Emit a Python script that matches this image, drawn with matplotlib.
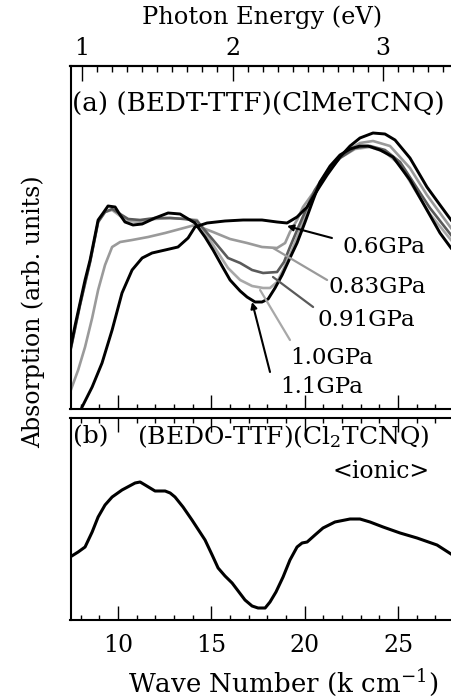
import matplotlib
matplotlib.use("Agg")
import matplotlib.pyplot as plt
from matplotlib.ticker import MultipleLocator, NullLocator, FixedLocator

plt.rcParams['font.family'] = ['DejaVu Serif']
plt.rcParams['mathtext.fontset'] = 'dejavuserif'

# ---------------- data (k cm^-1 , arb. units) ----------------
k_06 = [8.07, 8.61, 9.14, 9.68, 10.21, 10.75, 11.29, 11.82, 12.52, 13.21, 13.75, 14.12, 14.77,
        15.73, 16.70, 17.71, 18.52, 19.05, 19.59, 20.13, 20.45, 20.82, 21.20, 21.89, 22.43,
        22.96, 23.66, 24.30, 24.84, 25.64, 26.55, 27.25, 27.84]
a_06 = [2, 22, 46, 79, 116, 139, 151, 156, 159, 162, 171, 182, 186,
        188, 189, 189, 187, 186, 192, 202, 212, 223, 234, 252, 263,
        271, 276, 275, 269, 251, 222, 204, 189]

k_083 = [7.43, 7.86, 8.23, 8.61, 8.93, 9.30, 9.68, 10.11, 10.75, 11.61, 12.52, 13.32, 14.12,
         15.09, 16.00, 16.91, 17.71, 18.52, 18.95, 19.21, 19.59, 19.91, 20.45, 20.82, 21.36,
         22.16, 22.96, 23.66, 24.57, 25.64, 26.55, 27.25, 27.84]
a_083 = [17, 39, 62, 91, 119, 144, 162, 167, 169, 172, 176, 180, 184,
         177, 170, 166, 162, 161, 166, 177, 189, 202, 216, 227, 241,
         257, 266, 268, 263, 241, 214, 196, 181]

k_091 = [7.43, 7.96, 8.50, 8.93, 9.30, 9.68, 10.11, 10.54, 11.18, 11.98, 12.79, 13.59, 14.23,
         15.09, 15.89, 16.54, 17.18, 17.77, 18.52, 18.89, 19.21, 19.64, 20.13, 20.55, 21.09,
         21.89, 22.70, 23.50, 24.30, 25.11, 25.91, 26.71, 27.84]
a_091 = [57, 104, 147, 187, 197, 200, 195, 190, 189, 191, 191, 190, 188,
         169, 151, 146, 139, 136, 137, 147, 162, 181, 202, 219, 234,
         251, 261, 263, 259, 247, 224, 201, 174]

k_10 = [7.43, 7.96, 8.50, 8.93, 9.30, 9.68, 10.11, 10.54, 11.18, 11.98, 12.79, 13.59, 14.23,
        15.09, 15.89, 16.54, 17.18, 17.77, 18.14, 18.52, 18.84, 19.21, 19.75, 20.13, 20.55,
        21.09, 21.89, 22.70, 23.50, 24.30, 25.11, 25.91, 26.71, 27.84]
a_10 = [57, 104, 147, 187, 197, 199, 193, 188, 187, 190, 191, 190, 189,
        164, 141, 129, 123, 121, 121, 127, 139, 154, 179, 199, 217,
        233, 251, 260, 262, 257, 244, 219, 195, 169]

k_11 = [7.43, 7.70, 7.96, 8.23, 8.50, 8.77, 8.93, 9.20, 9.46, 9.84, 10.11, 10.37, 10.80,
        11.29, 11.98, 12.68, 13.32, 14.12, 14.66, 15.09, 15.57, 16.00, 16.54, 16.91, 17.34,
        17.71, 18.04, 18.41, 18.79, 19.21, 19.59, 20.02, 20.45, 20.82, 21.36, 21.89, 22.43,
        22.96, 23.39, 24.04, 24.73, 25.64, 26.55, 27.25, 27.84]
a_11 = [59, 84, 106, 129, 149, 174, 189, 196, 203, 202, 194, 187, 184,
        185, 191, 196, 195, 186, 172, 159, 143, 129, 118, 112, 107,
        107, 110, 121, 134, 151, 166, 187, 209, 227, 243, 254, 260,
        263, 263, 259, 252, 229, 199, 176, 161]

k_b = [7.43, 7.86, 8.23, 8.61, 8.93, 9.30, 9.68, 10.21, 10.91, 11.18, 11.45, 11.98, 12.52,
       12.79, 13.05, 13.48, 13.96, 14.66, 15.04, 15.36, 15.73, 16.11, 16.80, 17.18, 17.50,
       17.88, 18.14, 18.46, 18.84, 19.21, 19.59, 19.86, 20.13, 20.55, 20.98, 21.62, 22.43,
       22.96, 23.50, 24.20, 25.11, 26.02, 27.09, 27.84]
a_b = [63, 68, 73, 88, 103, 115, 123, 130, 137, 138, 135, 129, 129,
       127, 123, 113, 100, 80, 65, 52, 44, 37, 20, 14, 12,
       12, 18, 28, 43, 60, 73, 77, 78, 85, 92, 98, 101,
       101, 98, 93, 87, 82, 75, 66]

pressures = ["0.6GPa", "0.83GPa", "0.91GPa", "1.0GPa", "1.1GPa"]
colors = ["black", "#9a9a9a", "#5a5a5a", "#a8a8a8", "black"]
# label anchor (k, a) and arrow tail/head (k, a)
label_pos = [(22.05, 162), (21.25, 122), (20.66, 89), (19.21, 51), (18.68, 22)]
arrow_tail = [(21.46, 171), (21.20, 129), (20.45, 102), (19.21, 69), (18.14, 37)]
arrow_head = [(19.05, 183), (18.30, 161), (18.30, 132), (17.61, 119), (17.18, 107)]

ev_ticks = [1, 2, 3]
KPEREV = 8.0655

# ---------------- figure ----------------
W, H = 451, 698
fig = plt.figure(figsize=(W / 100, H / 100), dpi=100)

def fx(px):
    return px / W

def fy(py):
    return 1 - py / H

left, right = 70.5, 454
ax1 = fig.add_axes([fx(left), fy(409), (right - left) / W, (409 - 66) / H])
ax2 = fig.add_axes([fx(left), fy(620), (right - left) / W, (620 - 418) / H])

for ax in (ax1, ax2):
    ax.set_xlim(7.45, 28.0)
    ax.xaxis.set_major_locator(MultipleLocator(5))
    ax.xaxis.set_minor_locator(MultipleLocator(1))
    ax.yaxis.set_major_locator(NullLocator())
    ax.yaxis.set_minor_locator(NullLocator())
    for s in ax.spines.values():
        s.set_linewidth(1.5)
    ax.spines['right'].set_visible(False)
    ax.tick_params(axis='x', which='major', direction='in', length=10, width=1.0)
    ax.tick_params(axis='x', which='minor', direction='in', length=3.5, width=1.0)

ax1.set_ylim(0, 343)
ax2.set_ylim(0, 202)
ax1.tick_params(axis='x', which='both', top=False, labelbottom=False)
ax2.tick_params(axis='x', which='both', top=True, labeltop=False, labelsize=17, pad=10)

series = [(k_06, a_06), (k_083, a_083), (k_091, a_091), (k_10, a_10), (k_11, a_11)]
order = [1, 3, 2, 0, 4]
for i in order:
    kk, aa = series[i]
    ax1.plot(kk, aa, color=colors[i], lw=2.1 if colors[i] == "black" else 1.9,
             solid_joinstyle='round', zorder=3 if colors[i] == "black" else 2)

for i, lab in enumerate(pressures):
    if colors[i] == "black":
        props = dict(arrowstyle='-|>', color=colors[i], lw=1.5, mutation_scale=9,
                     shrinkA=0, shrinkB=0)
    else:
        props = dict(arrowstyle='-', color=colors[i], lw=1.6, shrinkA=0, shrinkB=0)
    ax1.annotate("", xy=arrow_head[i], xytext=arrow_tail[i], arrowprops=props, zorder=4)
    ax1.text(label_pos[i][0], label_pos[i][1], lab, fontsize=16.6, ha='left', va='center',
             color='black')

ax2.plot(k_b, a_b, color='black', lw=2.2, solid_joinstyle='round')

# top eV axis
sec = ax1.secondary_xaxis('top', functions=(lambda k: k / KPEREV, lambda e: e * KPEREV))
sec.xaxis.set_major_locator(FixedLocator(ev_ticks))
sec.xaxis.set_minor_locator(MultipleLocator(0.1))
sec.tick_params(axis='x', which='major', direction='in', length=11, width=1.0,
                labelsize=17, pad=4)
sec.tick_params(axis='x', which='minor', direction='in', length=4, width=1.0)
sec.spines['top'].set_linewidth(1.5)

# texts
fig.text(fx(262), fy(17), "Photon Energy (eV)", fontsize=17.4, ha='center', va='center')
fig.text(fx(72), fy(103), "(a) (BEDT-TTF)(ClMeTCNQ)", fontsize=18.8, ha='left', va='center')
fig.text(fx(73), fy(437), "(b)", fontsize=18, ha='left', va='center')
fig.text(fx(430), fy(437), r"(BEDO-TTF)(Cl$_2$TCNQ)", fontsize=18, ha='right', va='center')
fig.text(fx(430), fy(472), "<ionic>", fontsize=17, ha='right', va='center')
fig.text(fx(283), fy(683), r"Wave Number (k cm$^{\mathregular{-1}}$)", fontsize=18.8,
         ha='center', va='center')
fig.text(fx(33), fy(312), "Absorption (arb. units)", fontsize=17, ha='center',
         va='center', rotation=90)

fig.savefig("out.png", dpi=100)
